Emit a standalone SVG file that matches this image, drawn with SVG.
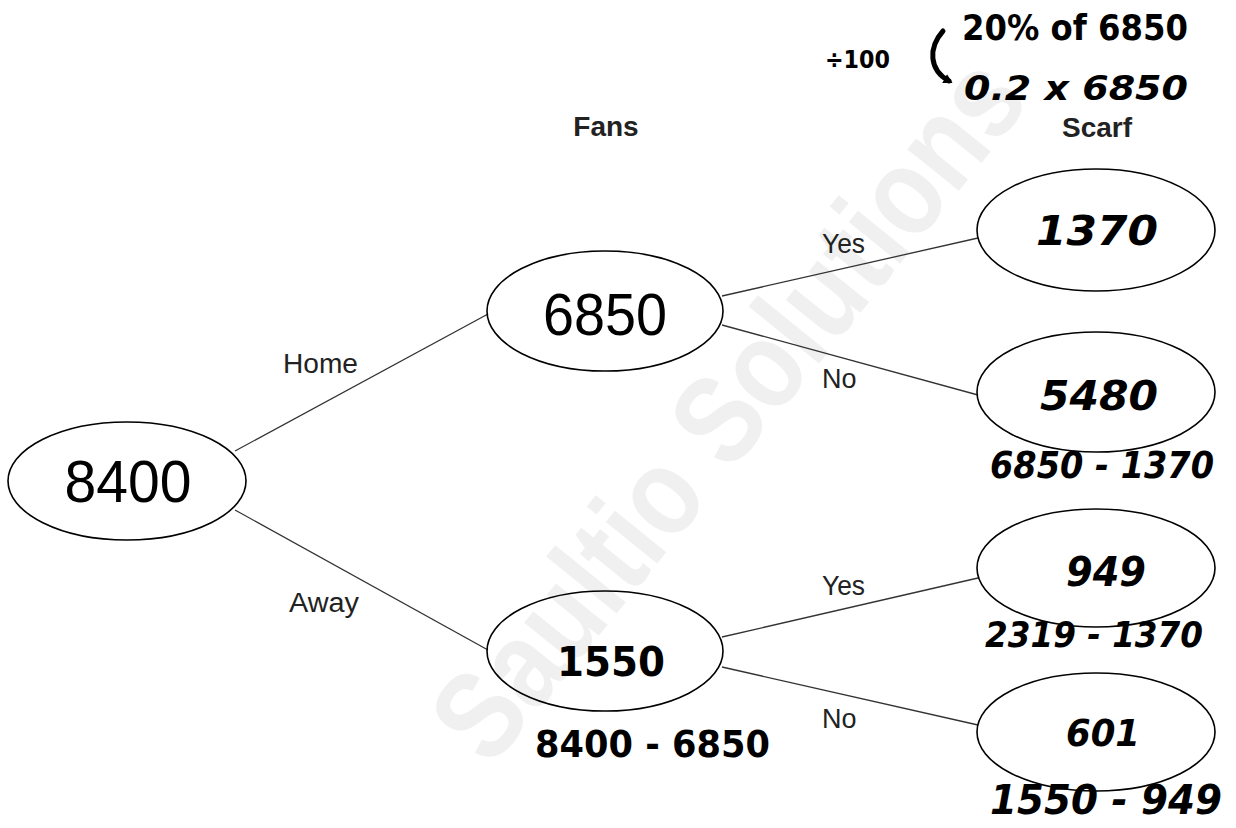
<svg xmlns="http://www.w3.org/2000/svg" width="1236" height="828" viewBox="0 0 1236 828">
<style>
.node{fill:none;stroke:#000;stroke-width:1.6}
.big{font-family:"Liberation Sans",Arial,sans-serif;font-size:60px;fill:#000;text-anchor:middle}
.lbl{font-family:"Liberation Sans",Arial,sans-serif;font-size:27px;fill:#222}
.hdr{font-family:"Liberation Sans",Arial,sans-serif;font-size:28px;font-weight:bold;fill:#222;text-anchor:middle}
.hw{font-family:"DejaVu Sans",sans-serif;font-weight:bold;fill:#000}
.it{font-style:italic}
.edge{stroke:#333;stroke-width:1.3;fill:none}
.wm{font-family:"Liberation Sans",Arial,sans-serif;font-weight:bold;fill:#f0f0f0}
</style>
<defs>
<marker id="ah" markerWidth="10" markerHeight="10" refX="5" refY="5" orient="auto" markerUnits="userSpaceOnUse">
<path d="M0,0 L9,5 L0,10 Z" fill="#000"/>
</marker>
</defs>
<rect width="1236" height="828" fill="#fff"/>
<text class="wm" x="730" y="450" font-size="125" text-anchor="middle" textLength="860" lengthAdjust="spacingAndGlyphs" transform="rotate(-51 730 410)">Saultio Solutions</text>

<g id="connectors">
<line class="edge" x1="235" y1="451" x2="488" y2="314"/>
<line class="edge" x1="235" y1="510" x2="488" y2="650"/>
<line class="edge" x1="722" y1="296" x2="978" y2="238"/>
<line class="edge" x1="722" y1="325" x2="978" y2="395"/>
<line class="edge" x1="722" y1="637" x2="978" y2="578"/>
<line class="edge" x1="722" y1="667" x2="978" y2="725"/>
<text class="lbl" x="283" y="373" font-size="28" textLength="75" lengthAdjust="spacingAndGlyphs">Home</text>
<text class="lbl" x="289" y="612" font-size="28" textLength="70" lengthAdjust="spacingAndGlyphs">Away</text>
<text class="lbl" x="822" y="253" textLength="43" lengthAdjust="spacingAndGlyphs">Yes</text>
<text class="lbl" x="822" y="388">No</text>
<text class="lbl" x="822" y="595" textLength="43" lengthAdjust="spacingAndGlyphs">Yes</text>
<text class="lbl" x="822" y="728">No</text>
</g>

<g id="headers">
<text class="hdr" x="606" y="136">Fans</text>
<text class="hdr" x="1097" y="137">Scarf</text>
</g>

<g id="n8400"><ellipse class="node" cx="127" cy="481" rx="119" ry="59"/><text class="big" x="128" y="502" textLength="127" lengthAdjust="spacingAndGlyphs">8400</text></g>
<g id="n6850"><ellipse class="node" cx="605" cy="311" rx="118" ry="60"/><text class="big" x="605" y="335" textLength="124" lengthAdjust="spacingAndGlyphs">6850</text></g>
<g id="n1550"><ellipse class="node" cx="605" cy="651" rx="118" ry="60"/><text class="hw" x="557" y="676" font-size="40" textLength="108" lengthAdjust="spacingAndGlyphs">1550</text></g>
<g id="n1370"><ellipse class="node" cx="1096" cy="230" rx="119" ry="61"/><text class="hw it" x="1036" y="245" font-size="40" textLength="122" lengthAdjust="spacingAndGlyphs">1370</text></g>
<g id="n5480"><ellipse class="node" cx="1096" cy="392" rx="119" ry="60"/><text class="hw it" x="1040" y="410" font-size="40" textLength="118" lengthAdjust="spacingAndGlyphs">5480</text></g>
<g id="n949"><ellipse class="node" cx="1096" cy="568" rx="119" ry="59"/><text class="hw it" x="1066" y="586" font-size="40" textLength="80" lengthAdjust="spacingAndGlyphs">949</text></g>
<g id="n601"><ellipse class="node" cx="1096" cy="732" rx="119" ry="59"/><text class="hw it" x="1066" y="746" font-size="37" textLength="74" lengthAdjust="spacingAndGlyphs">601</text></g>

<g id="notes">
<text class="hw" x="825" y="68" font-size="25" textLength="65" lengthAdjust="spacingAndGlyphs">÷100</text>
<path d="M943,31 C928,48 929,70 949,81" stroke="#000" stroke-width="5" fill="none" stroke-linecap="round" marker-end="url(#ah)"/>
<text class="hw" x="962" y="40" font-size="36" textLength="226" lengthAdjust="spacingAndGlyphs">20% of 6850</text>
<text class="hw it" x="964" y="100" font-size="33" textLength="224" lengthAdjust="spacingAndGlyphs">0.2  x 6850</text>
<text class="hw it" x="990" y="478" font-size="38" textLength="224" lengthAdjust="spacingAndGlyphs">6850 - 1370</text>
<text class="hw it" x="985" y="647" font-size="35" textLength="218" lengthAdjust="spacingAndGlyphs">2319 - 1370</text>
<text class="hw" x="535" y="757" font-size="37" textLength="235" lengthAdjust="spacingAndGlyphs">8400 - 6850</text>
<text class="hw it" x="990" y="814" font-size="40" textLength="232" lengthAdjust="spacingAndGlyphs">1550 - 949</text>
</g>
</svg>
